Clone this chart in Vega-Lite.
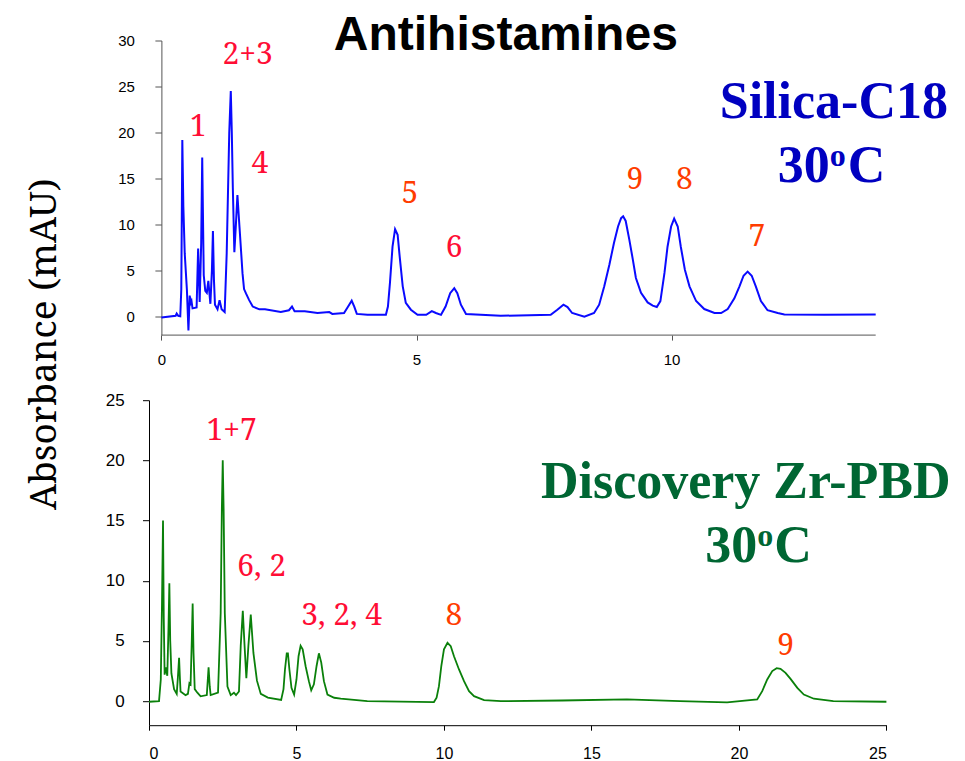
{
  "$schema": "https://vega.github.io/schema/vega-lite/v6.json",
  "background": "white",
  "padding": {"left": 25, "top": 11.5, "right": 10, "bottom": 0},
  "bounds": "flush",
  "spacing": 64.7,
  "config": {
    "view": {"stroke": null},
    "axis": {"grid": false, "labelFont": "Liberation Sans", "labelColor": "black", "title": null}
  },
  "datasets": {
    "silica": [
      {"t":0,"a":-0.1},{"t":0.28,"a":0.1},{"t":0.3,"a":0.35},{"t":0.33,"a":0.1},{"t":0.37,"a":0.05},{"t":0.39,"a":3},{"t":0.41,"a":19.2},{"t":0.43,"a":12},{"t":0.457,"a":6.9},{"t":0.5,"a":2.9},{"t":0.53,"a":-1.5},{"t":0.555,"a":2.3},{"t":0.575,"a":1.5},{"t":0.59,"a":1.7},{"t":0.61,"a":0.9},{"t":0.69,"a":1.0},{"t":0.72,"a":7.4},{"t":0.75,"a":1.6},{"t":0.78,"a":8},{"t":0.8,"a":17.3},{"t":0.83,"a":4.5},{"t":0.86,"a":2.8},{"t":0.89,"a":2.6},{"t":0.92,"a":3.9},{"t":0.96,"a":1.4},{"t":0.99,"a":5},{"t":1.01,"a":9.3},{"t":1.03,"a":4},{"t":1.05,"a":1.3},{"t":1.1,"a":0.8},{"t":1.14,"a":1.8},{"t":1.18,"a":0.8},{"t":1.24,"a":0.5},{"t":1.28,"a":6.9},{"t":1.33,"a":20},{"t":1.36,"a":24.5},{"t":1.38,"a":20},{"t":1.4,"a":14},{"t":1.43,"a":7.0},{"t":1.46,"a":10},{"t":1.49,"a":13.2},{"t":1.53,"a":9.8},{"t":1.59,"a":4.7},{"t":1.62,"a":3.0},{"t":1.66,"a":2.5},{"t":1.72,"a":1.8},{"t":1.79,"a":1.1},{"t":1.92,"a":0.8},{"t":2.03,"a":0.8},{"t":2.34,"a":0.5},{"t":2.5,"a":0.7},{"t":2.56,"a":1.1},{"t":2.61,"a":0.6},{"t":2.81,"a":0.6},{"t":3.06,"a":0.4},{"t":3.29,"a":0.5},{"t":3.35,"a":0.3},{"t":3.58,"a":0.4},{"t":3.66,"a":1.1},{"t":3.73,"a":1.73},{"t":3.78,"a":1.1},{"t":3.83,"a":0.3},{"t":4.04,"a":0.2},{"t":4.4,"a":0.2},{"t":4.44,"a":1.1},{"t":4.48,"a":3.7},{"t":4.53,"a":7.6},{"t":4.58,"a":9.5},{"t":4.63,"a":8.9},{"t":4.67,"a":6.55},{"t":4.73,"a":3.3},{"t":4.79,"a":1.5},{"t":4.89,"a":0.76},{"t":5.02,"a":0.2},{"t":5.19,"a":0.2},{"t":5.3,"a":0.6},{"t":5.38,"a":0.4},{"t":5.48,"a":0.2},{"t":5.57,"a":1.1},{"t":5.66,"a":2.55},{"t":5.74,"a":3.1},{"t":5.8,"a":2.55},{"t":5.87,"a":1.3},{"t":5.97,"a":0.3},{"t":6.65,"a":0.1},{"t":7.63,"a":0.2},{"t":7.76,"a":0.75},{"t":7.88,"a":1.3},{"t":7.96,"a":1.05},{"t":8.05,"a":0.4},{"t":8.29,"a":0.0},{"t":8.48,"a":0.4},{"t":8.58,"a":1.3},{"t":8.68,"a":3.3},{"t":8.78,"a":5.65},{"t":8.87,"a":8.0},{"t":8.95,"a":9.8},{"t":9.01,"a":10.7},{"t":9.05,"a":10.9},{"t":9.1,"a":10.4},{"t":9.17,"a":8.4},{"t":9.24,"a":6.2},{"t":9.3,"a":4.2},{"t":9.4,"a":2.6},{"t":9.53,"a":1.55},{"t":9.63,"a":1.2},{"t":9.71,"a":1.05},{"t":9.78,"a":1.7},{"t":9.86,"a":4.75},{"t":9.92,"a":7.6},{"t":9.99,"a":9.8},{"t":10.05,"a":10.65},{"t":10.12,"a":9.8},{"t":10.18,"a":7.6},{"t":10.26,"a":5.1},{"t":10.35,"a":3.3},{"t":10.48,"a":1.7},{"t":10.64,"a":0.83},{"t":10.84,"a":0.4},{"t":10.97,"a":0.4},{"t":11.1,"a":0.83},{"t":11.23,"a":2.0},{"t":11.33,"a":3.3},{"t":11.41,"a":4.45},{"t":11.49,"a":4.9},{"t":11.57,"a":4.45},{"t":11.65,"a":3.3},{"t":11.75,"a":1.7},{"t":11.88,"a":0.7},{"t":12.08,"a":0.4},{"t":12.21,"a":0.25},{"t":13.0,"a":0.2},{"t":14.0,"a":0.25}
    ],
    "zr": [
      {"t":0,"a":-0.05},{"t":0.34,"a":0},{"t":0.4,"a":1.8},{"t":0.44,"a":8},{"t":0.475,"a":15.0},{"t":0.5,"a":7},{"t":0.53,"a":2.2},{"t":0.57,"a":2.8},{"t":0.62,"a":2.1},{"t":0.66,"a":6},{"t":0.69,"a":9.8},{"t":0.72,"a":5},{"t":0.76,"a":2.3},{"t":0.85,"a":1.0},{"t":0.94,"a":0.6},{"t":0.98,"a":2},{"t":1.02,"a":3.6},{"t":1.05,"a":1.8},{"t":1.07,"a":0.8},{"t":1.24,"a":0.5},{"t":1.32,"a":0.6},{"t":1.37,"a":1.5},{"t":1.41,"a":1.4},{"t":1.45,"a":5},{"t":1.48,"a":8.1},{"t":1.51,"a":4},{"t":1.55,"a":1.0},{"t":1.64,"a":0.7},{"t":1.75,"a":0.4},{"t":1.96,"a":0.5},{"t":2.02,"a":2.8},{"t":2.06,"a":1.2},{"t":2.09,"a":0.5},{"t":2.34,"a":0.7},{"t":2.43,"a":7.3},{"t":2.47,"a":16},{"t":2.5,"a":20.0},{"t":2.53,"a":16},{"t":2.57,"a":7.3},{"t":2.66,"a":1.2},{"t":2.77,"a":0.5},{"t":2.88,"a":0.7},{"t":2.95,"a":0.5},{"t":3.05,"a":0.8},{"t":3.11,"a":4.6},{"t":3.18,"a":7.5},{"t":3.24,"a":4.6},{"t":3.3,"a":1.9},{"t":3.37,"a":4.6},{"t":3.45,"a":7.2},{"t":3.54,"a":4.0},{"t":3.66,"a":1.7},{"t":3.79,"a":0.6},{"t":4.03,"a":0.3},{"t":4.48,"a":0.1},{"t":4.56,"a":1.0},{"t":4.61,"a":2.63},{"t":4.67,"a":3.97},{"t":4.71,"a":3.97},{"t":4.76,"a":2.63},{"t":4.83,"a":1.1},{"t":4.92,"a":0.55},{"t":5.0,"a":1.8},{"t":5.07,"a":3.73},{"t":5.14,"a":4.6},{"t":5.21,"a":4.3},{"t":5.31,"a":2.9},{"t":5.42,"a":1.66},{"t":5.5,"a":0.9},{"t":5.59,"a":1.4},{"t":5.68,"a":2.9},{"t":5.76,"a":3.97},{"t":5.84,"a":3.2},{"t":5.93,"a":1.66},{"t":6.05,"a":0.55},{"t":6.28,"a":0.28},{"t":6.5,"a":0.2},{"t":7.4,"a":0},{"t":9.66,"a":-0.08},{"t":9.75,"a":0.28},{"t":9.83,"a":1.24},{"t":9.91,"a":2.9},{"t":10.0,"a":4.3},{"t":10.12,"a":4.84},{"t":10.23,"a":4.56},{"t":10.34,"a":3.73},{"t":10.51,"a":2.63},{"t":10.68,"a":1.66},{"t":10.85,"a":0.83},{"t":11.02,"a":0.41},{"t":11.36,"a":0.08},{"t":11.93,"a":0},{"t":14,"a":0.05},{"t":16.2,"a":0.15},{"t":18,"a":0.0},{"t":19.6,"a":-0.1},{"t":20.62,"a":0.14},{"t":20.79,"a":0.83},{"t":20.96,"a":1.8},{"t":21.13,"a":2.5},{"t":21.28,"a":2.74},{"t":21.41,"a":2.68},{"t":21.58,"a":2.35},{"t":21.75,"a":1.85},{"t":21.98,"a":1.1},{"t":22.2,"a":0.55},{"t":22.54,"a":0.2},{"t":23.2,"a":0},{"t":25,"a":-0.05}
    ],
    "topRed": [
      {"t":0.72,"a":19.67,"label":"1"},{"t":1.69,"a":27.4,"label":"2+3"},{"t":1.93,"a":15.6,"label":"4"},{"t":5.74,"a":6.5,"label":"6"}
    ],
    "topOrange": [
      {"t":4.87,"a":12.4,"label":"5"},{"t":9.28,"a":13.9,"label":"9"},{"t":10.25,"a":13.9,"label":"8"},{"t":11.67,"a":7.7,"label":"7"}
    ],
    "botRed": [
      {"t":2.8,"a":21.7,"label":"1+7"},{"t":3.82,"a":10.36,"label":"6, 2"},{"t":6.53,"a":6.35,"label":"3, 2, 4"}
    ],
    "botOrange": [
      {"t":10.34,"a":6.35,"label":"8"},{"t":21.58,"a":3.8,"label":"9"}
    ]
  },
  "vconcat": [
    {
      "width": 726.7,
      "height": 294.6,
      "encoding": {
        "x": {"field": "t", "type": "quantitative",
              "scale": {"domain": [-0.243, 14], "nice": false, "zero": false},
              "axis": {"values": [0, 5, 10], "domain": false, "tickColor": "#555555", "tickSize": 5, "labelFontSize": 15, "labelPadding": 12, "title": null}},
        "y": {"field": "a", "type": "quantitative",
              "scale": {"domain": [-2, 30], "nice": false, "zero": false},
              "axis": {"values": [0, 5, 10, 15, 20, 25, 30], "offset": -12.4, "domainColor": "#555555", "tickColor": "#555555", "tickSize": 6.5, "labelFontSize": 15, "labelPadding": 20.5, "title": null}}
      },
      "layer": [
        {"data": {"values": [{"t0": 0, "t1": 14, "y0": -2}]},
         "mark": {"type": "rule", "color": "#555555", "strokeWidth": 1},
         "encoding": {"x": {"field": "t0", "type": "quantitative"}, "x2": {"field": "t1"}, "y": {"field": "y0", "type": "quantitative"}}},
        {"data": {"name": "silica"},
         "mark": {"type": "line", "color": "#0a0aff", "strokeWidth": 2}},
        {"data": {"name": "topRed"},
         "mark": {"type": "text", "font": "Noto Serif", "fontSize": 30, "color": "#ff0d35", "baseline": "alphabetic", "align": "center"},
         "encoding": {"text": {"field": "label"}}},
        {"data": {"name": "topOrange"},
         "mark": {"type": "text", "font": "Noto Serif", "fontSize": 30, "color": "#ff3c00", "baseline": "alphabetic", "align": "center"},
         "encoding": {"text": {"field": "label"}}},
        {"data": {"values": [{"t": 6.75, "a": 29.0, "label": "Antihistamines"}]},
         "mark": {"type": "text", "font": "Liberation Sans", "fontWeight": "bold", "fontSize": 48, "color": "black", "baseline": "alphabetic", "align": "center"},
         "encoding": {"text": {"field": "label"}}},
        {"data": {"values": [{"t": 13.18, "a": 21.6, "label": "Silica-C18"}]},
         "mark": {"type": "text", "font": "Liberation Serif", "fontWeight": "bold", "fontSize": 52, "color": "#0000c0", "baseline": "alphabetic", "align": "center"},
         "encoding": {"text": {"field": "label"}}},
        {"data": {"values": [{"t": 13.1, "a": 14.6, "label": "30"}]},
         "mark": {"type": "text", "font": "Liberation Serif", "fontWeight": "bold", "fontSize": 52, "color": "#0000c0", "baseline": "alphabetic", "align": "right"},
         "encoding": {"text": {"field": "label"}}},
        {"data": {"values": [{"t": 13.1, "a": 14.6, "label": "o"}]},
         "mark": {"type": "text", "font": "Liberation Serif", "fontWeight": "bold", "fontSize": 32, "color": "#0000c0", "baseline": "alphabetic", "align": "left", "dx": 0, "dy": -16},
         "encoding": {"text": {"field": "label"}}},
        {"data": {"values": [{"t": 13.1, "a": 14.6, "label": "C"}]},
         "mark": {"type": "text", "font": "Liberation Serif", "fontWeight": "bold", "fontSize": 52, "color": "#0000c0", "baseline": "alphabetic", "align": "left", "dx": 18},
         "encoding": {"text": {"field": "label"}}}
      ]
    },
    {
      "width": 737.4,
      "height": 325,
      "encoding": {
        "x": {"field": "t", "type": "quantitative",
              "scale": {"domain": [0, 25], "nice": false, "zero": false},
              "axis": {"values": [0, 5, 10, 15, 20, 25], "domainColor": "black", "tickColor": "black", "tickSize": 5, "labelFontSize": 16, "labelPadding": 15, "title": null}},
        "y": {"field": "a", "type": "quantitative",
              "scale": {"domain": [-2, 25], "nice": false, "zero": false},
              "axis": {"values": [0, 5, 10, 15, 20, 25], "domainColor": "black", "tickColor": "black", "tickSize": 6.5, "labelFontSize": 17, "labelPadding": 18.3,
                       "title": "Absorbance (mAU)", "titleFont": "Noto Serif", "titleFontSize": 37, "titleFontWeight": "normal", "titleColor": "black",
                       "titleX": -93.3, "titleY": -56.5, "titleAngle": 270, "titleAlign": "center", "titleBaseline": "alphabetic"}}
      },
      "layer": [
        {"data": {"name": "zr"},
         "mark": {"type": "line", "color": "#0a800a", "strokeWidth": 1.8}},
        {"data": {"name": "botRed"},
         "mark": {"type": "text", "font": "Noto Serif", "fontSize": 30, "color": "#ff0d35", "baseline": "alphabetic", "align": "center"},
         "encoding": {"text": {"field": "label"}}},
        {"data": {"name": "botOrange"},
         "mark": {"type": "text", "font": "Noto Serif", "fontSize": 30, "color": "#ff3c00", "baseline": "alphabetic", "align": "center"},
         "encoding": {"text": {"field": "label"}}},
        {"data": {"values": [{"t": 20.23, "a": 16.9, "label": "Discovery Zr-PBD"}]},
         "mark": {"type": "text", "font": "Liberation Serif", "fontWeight": "bold", "fontSize": 52, "color": "#006633", "baseline": "alphabetic", "align": "center"},
         "encoding": {"text": {"field": "label"}}},
        {"data": {"values": [{"t": 20.62, "a": 11.52, "label": "30"}]},
         "mark": {"type": "text", "font": "Liberation Serif", "fontWeight": "bold", "fontSize": 52, "color": "#006633", "baseline": "alphabetic", "align": "right"},
         "encoding": {"text": {"field": "label"}}},
        {"data": {"values": [{"t": 20.62, "a": 11.52, "label": "o"}]},
         "mark": {"type": "text", "font": "Liberation Serif", "fontWeight": "bold", "fontSize": 32, "color": "#006633", "baseline": "alphabetic", "align": "left", "dx": 0, "dy": -16},
         "encoding": {"text": {"field": "label"}}},
        {"data": {"values": [{"t": 20.62, "a": 11.52, "label": "C"}]},
         "mark": {"type": "text", "font": "Liberation Serif", "fontWeight": "bold", "fontSize": 52, "color": "#006633", "baseline": "alphabetic", "align": "left", "dx": 17},
         "encoding": {"text": {"field": "label"}}}
      ]
    }
  ]
}
